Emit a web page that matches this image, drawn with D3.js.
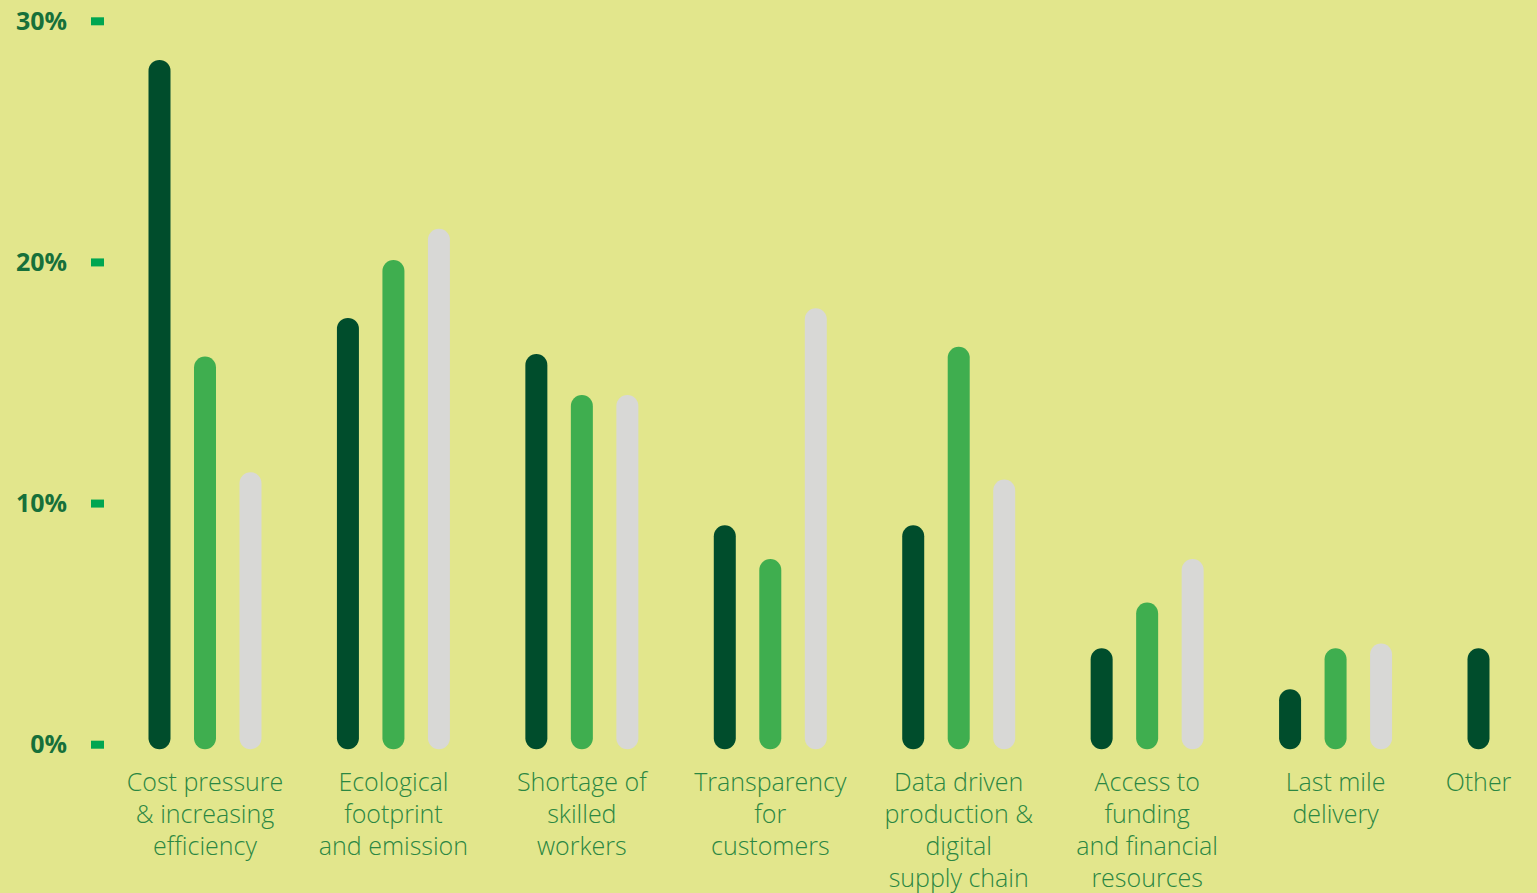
<!DOCTYPE html>
<head>
  <meta charset="utf-8">
  <script src="https://d3js.org/d3.v7.min.js"></script>
  <style>
    body { margin:0; background:#e2e68c; overflow:hidden; }
    text { font-family: "Open Sans", sans-serif; }
  </style>
</head>

<body>
  <script>
    // data
    var categories = [
      "Cost pressure|& increasing|efficiency",
      "Ecological|footprint|and emission",
      "Shortage of|skilled|workers",
      "Transparency|for|customers",
      "Data driven|production &|digital|supply chain",
      "Access to|funding|and financial|resources",
      "Last mile|delivery",
      "Other"
    ];
    var darkSeries  = [28.4, 17.7, 16.2, 9.1, 9.1, 4.0, 2.3, 4.0];
    var greenSeries = [16.1, 20.1, 14.5, 7.7, 16.5, 5.9, 4.0, null];
    var greySeries  = [11.3, 21.4, 14.5, 18.1, 11.0, 7.7, 4.2, null];
    var yTicks = [0, 10, 20, 30];

    var width = 1537, height = 893;
    var colors = ["#004d2c", "#3fae4f", "#d8d8d6"];
    var barW = 22;
    var gapRatio = 1.1413; // extra space between groups, in bar slots

    var svg = d3.select("body").append("svg")
      .attr("width", width)
      .attr("height", height);

    var yScale = d3.scaleLinear()
      .domain([0, 30])
      .range([744.7, 21.3]);

    // each bar gets a slot; groups are separated by a gap
    var bars = [];
    var slot = 0;
    categories.forEach(function(c, g) {
      var vals = [darkSeries[g], greenSeries[g], greySeries[g]];
      var first = slot + g * gapRatio;
      var n = 0;
      vals.forEach(function(v, s) {
        if (v == null) return;
        bars.push({ pos: slot + g * gapRatio, value: v, series: s, group: g });
        slot++; n++;
      });
      c.center = first + (n - 1) / 2;
    });
    var groupCenters = categories.map(function(c, g) {
      var gb = bars.filter(function(b) { return b.group == g; });
      return d3.mean(gb, function(b) { return b.pos; });
    });

    var maxPos = d3.max(bars, function(d) { return d.pos; });
    var xScale = d3.scaleLinear()
      .domain([0, maxPos])
      .range([159.5, 159.5 + maxPos * 45.5]);

    // y axis
    var yAxis = svg.append('g').attr('class', 'yaxis');
    yAxis.selectAll('rect')
      .data(yTicks)
      .enter()
      .append('rect')
      .attr('x', 91)
      .attr('y', function(d) { return yScale(d) - 4; })
      .attr('width', 13)
      .attr('height', 8)
      .attr('fill', '#00a651');
    yAxis.selectAll('text')
      .data(yTicks)
      .enter()
      .append('text')
      .attr('x', 67)
      .attr('y', function(d) { return yScale(d); })
      .attr('dy', '0.35em')
      .attr('text-anchor', 'end')
      .attr('font-size', 25)
      .attr('font-weight', 700)
      .attr('fill', '#16703a')
      .text(function(d) { return d + '%'; });

    // bars
    svg.append('g')
      .selectAll('rect')
      .data(bars)
      .enter()
      .append('rect')
      .attr('x', function(d) { return xScale(d.pos) - barW / 2; })
      .attr('y', function(d) { return yScale(d.value); })
      .attr('width', barW)
      .attr('height', function(d) { return yScale(0) + 4.5 - yScale(d.value); })
      .attr('rx', barW / 2)
      .attr('fill', function(d) { return colors[d.series]; });

    // category labels
    var labels = svg.append('g')
      .selectAll('text')
      .data(categories)
      .enter()
      .append('text')
      .attr('x', function(d, i) { return xScale(groupCenters[i]); })
      .attr('y', 791)
      .attr('text-anchor', 'middle')
      .attr('font-size', 25)
      .attr('font-weight', 300)
      .attr('fill', '#2b8742');
    labels.each(function(d, i) {
      var t = d3.select(this);
      d.split('|').forEach(function(line, k) {
        t.append('tspan')
          .attr('x', xScale(groupCenters[i]))
          .attr('dy', k == 0 ? 0 : 32)
          .text(line);
      });
    });
  </script>
</body>
